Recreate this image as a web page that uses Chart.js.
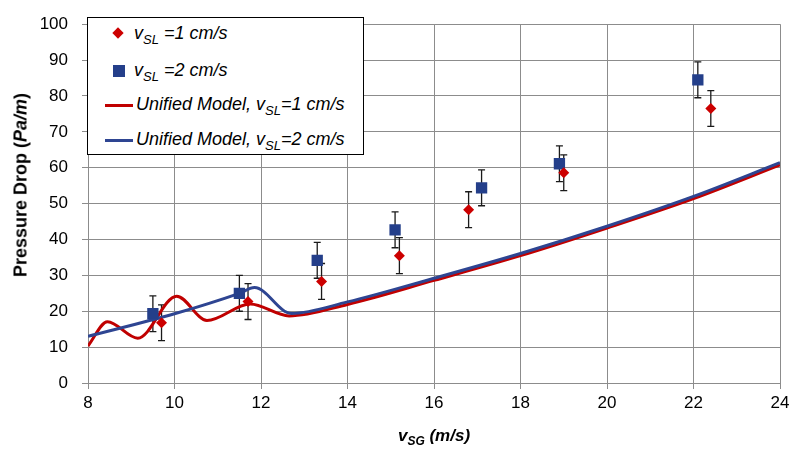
<!DOCTYPE html>
<html>
<head>
<meta charset="utf-8">
<script src="https://cdn.jsdelivr.net/npm/chart.js@4.4.1/dist/chart.umd.min.js"></script>
<style>
  body { margin: 0; background: #fff; font-family: "Liberation Sans", Arial, sans-serif; }
  #wrap { position: relative; width: 791px; height: 452px; }
  canvas { position: absolute; left: 0; top: 0; }
  .legend { position: absolute; left: 87px; top: 17px; width: 275px; height: 136px;
            border: 1.5px solid #000; background: #fff; font-style: italic; font-size: 18px; color: #000; }
  .row { position: absolute; left: 0; height: 20px; line-height: 20px; white-space: nowrap; }
  .row .txt { position: absolute; top: -1px; }
  .sub { font-size: 13px; position: relative; top: 5px; }
  .diamond { position: absolute; left: 26px; top: 5px; width: 8px; height: 8px; background: #cc0000; transform: rotate(45deg); }
  .square { position: absolute; left: 25px; top: 4px; width: 12px; height: 12px; background: #243f8a; }
  .line { position: absolute; left: 17px; top: 9px; width: 28px; height: 3px; }
  .ytitle { position: absolute; left: 21px; top: 185px; transform: translate(-50%, -50%) rotate(-90deg);
            font-weight: bold; font-size: 18px; white-space: nowrap; }
  .xtitle { position: absolute; left: 434px; top: 436px; transform: translate(-50%, -50%);
            font-weight: bold; font-style: italic; font-size: 17px; white-space: nowrap; }
  .xtitle .sub { font-size: 12px; top: 4px; }
</style>
</head>
<body>
<div id="wrap">
  <canvas id="chart" width="791" height="452"></canvas>
  <div class="legend">
    <div class="row" style="top:6px;"><span class="diamond"></span><span class="txt" style="left:46px;">v<span class="sub">SL</span> =1 cm/s</span></div>
    <div class="row" style="top:43px;"><span class="square"></span><span class="txt" style="left:46px;">v<span class="sub">SL</span> =2 cm/s</span></div>
    <div class="row" style="top:77px;"><span class="line" style="background:#c00000;"></span><span class="txt" style="left:48px;">Unified Model, v<span class="sub">SL</span>=1 cm/s</span></div>
    <div class="row" style="top:112px;"><span class="line" style="background:#2e4592;"></span><span class="txt" style="left:48px;">Unified Model, v<span class="sub">SL</span>=2 cm/s</span></div>
  </div>
  <div class="ytitle">Pressure Drop (<i>Pa/m</i>)</div>
  <div class="xtitle">v<span class="sub">SG</span> (m/s)</div>
</div>
<script>
// measured data, vSL = 1 cm/s
const vsg1 = [9.7, 11.7, 13.4, 15.2, 16.8, 19.0, 22.4];
const dp1 = [16.8, 22.7, 28.3, 35.5, 48.3, 58.6, 76.5];
const err1 = [5, 5, 5, 5, 5, 5, 5];

// measured data, vSL = 2 cm/s
const vsg2 = [9.5, 11.5, 13.3, 15.1, 17.1, 18.9, 22.1];
const dp2 = [19.3, 25.0, 34.2, 42.7, 54.4, 61.1, 84.5];
const err2 = [5, 5, 5, 5, 5, 5, 5];

// unified model curves
const modelX1 = [8, 8.45, 9.15, 10.05, 10.75, 11.75, 12.65, 14, 16, 18, 20, 22, 24];
const model1 = [10.3, 17.1, 12.5, 24.2, 17.4, 22.0, 18.7, 21.9, 28.6, 35.5, 43.2, 51.4, 60.8];
const modelX2 = [8, 10, 11.5, 11.85, 12.7, 14, 16, 18, 20, 22, 24];
const model2 = [13.0, 19.3, 25.0, 26.6, 19.4, 22.6, 29.2, 36.1, 43.7, 52.0, 61.4];

const toPoints = (xs, ys) => xs.map((x, i) => ({ x: x, y: ys[i] }));

const errorBars = {
  id: "errorBars",
  beforeDatasetsDraw(chart) {
    const ctx = chart.ctx;
    const x = chart.scales.x;
    const y = chart.scales.y;
    ctx.save();
    ctx.strokeStyle = "#1a1a1a";
    ctx.lineWidth = 1.3;
    [[vsg1, dp1, err1], [vsg2, dp2, err2]].forEach(([xs, ys, es]) => {
      xs.forEach((v, i) => {
        const px = x.getPixelForValue(v);
        const top = y.getPixelForValue(ys[i] + es[i]);
        const bot = y.getPixelForValue(ys[i] - es[i]);
        ctx.beginPath();
        ctx.moveTo(px, top); ctx.lineTo(px, bot);
        ctx.moveTo(px - 3.5, top); ctx.lineTo(px + 3.5, top);
        ctx.moveTo(px - 3.5, bot); ctx.lineTo(px + 3.5, bot);
        ctx.stroke();
      });
    });
    ctx.restore();
  }
};

new Chart(document.getElementById("chart"), {
  type: "scatter",
  data: {
    datasets: [
      {
        label: "vSL =1 cm/s",
        data: toPoints(vsg1, dp1),
        pointStyle: "rectRot",
        pointRadius: 5.5,
        backgroundColor: "#cc0000",
        borderColor: "#cc0000",
        borderWidth: 0
      },
      {
        label: "vSL =2 cm/s",
        data: toPoints(vsg2, dp2),
        pointStyle: "rect",
        pointRadius: 8,
        backgroundColor: "#243f8a",
        borderColor: "#243f8a",
        borderWidth: 0
      },
      {
        label: "Unified Model, vSL=2 cm/s",
        data: toPoints(modelX2, model2),
        showLine: true,
        pointRadius: 0,
        borderColor: "#2e4592",
        borderWidth: 3,
        cubicInterpolationMode: "monotone"
      },
      {
        label: "Unified Model, vSL=1 cm/s",
        data: toPoints(modelX1, model1),
        showLine: true,
        pointRadius: 0,
        borderColor: "#c00000",
        borderWidth: 3,
        cubicInterpolationMode: "monotone"
      }
    ]
  },
  options: {
    responsive: false,
    animation: false,
    layout: { padding: { top: 15, right: 11, left: 0, bottom: 0 } },
    plugins: {
      legend: { display: false },
      tooltip: { enabled: false }
    },
    scales: {
      x: {
        type: "linear",
        min: 8,
        max: 24,
        afterFit(scale) {
          scale.height = 69;
          scale.paddingLeft = 0;
          scale.paddingRight = 0;
        },
        ticks: { stepSize: 2, color: "#000", padding: 4, font: { size: 17, family: "Liberation Sans" } },
        grid: { color: "#8c8c8c", tickLength: 6 },
        border: { color: "#8c8c8c" }
      },
      y: {
        min: 0,
        max: 100,
        afterFit(scale) { scale.width = 88; },
        ticks: { stepSize: 10, color: "#000", padding: 14, font: { size: 17, family: "Liberation Sans" } },
        grid: { color: "#8c8c8c", tickLength: 6 },
        border: { color: "#8c8c8c" }
      }
    }
  },
  plugins: [errorBars]
});
</script>
</body>
</html>
